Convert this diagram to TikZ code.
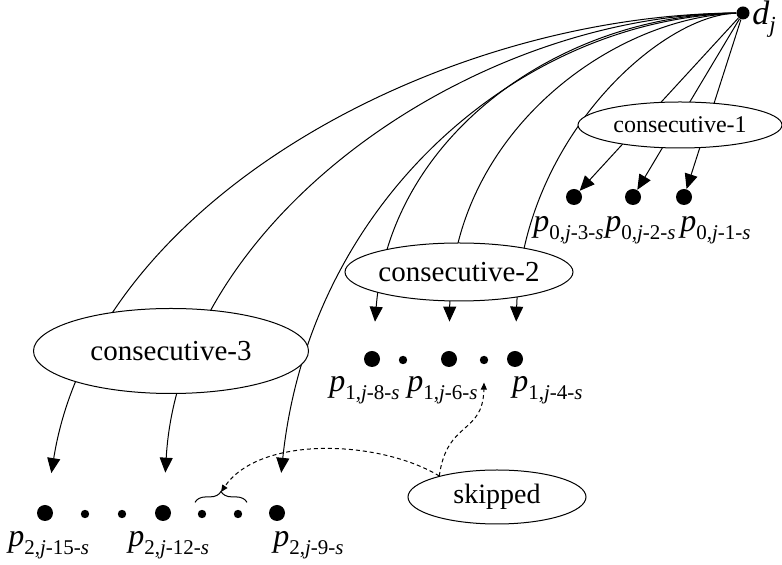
\documentclass[tikz,border=0pt]{standalone}
\usepackage{fontspec}
\setmainfont{Liberation Serif}
\usetikzlibrary{arrows.meta,shapes.geometric,decorations.pathreplacing}

\newcommand{\plab}[2]{\textit{p}\raisebox{-4pt}{\fontsize{10.5}{12}\selectfont #1,\textit{j}-#2-\textit{s}}}

\tikzset{
  bigdot/.style={circle, fill, inner sep=0pt, minimum size=8pt},
  smalldot/.style={circle, fill, inner sep=0pt, minimum size=4.2pt},
  group/.style={ellipse, draw, fill=white, line width=0.5pt, inner sep=0pt},
  plabel/.style={anchor=base west, inner sep=0pt, font=\fontsize{16}{19}\selectfont},
  arr/.style={line width=0.5pt, -{Triangle[length=7.5pt,width=6.5pt]}},
  skiparr/.style={line width=0.5pt, dash pattern=on 2pt off 1.5pt, -{Triangle[length=3.5pt,width=3pt]}},
}

\begin{document}
\begin{tikzpicture}[x=0.5pt, y=0.5pt]
  \useasboundingbox (0,0) rectangle (782,-565);

  % NODES
  \node[circle, fill, inner sep=0pt, minimum size=6.5pt] (dj) at (743,-13) {};
  \node[anchor=base west, inner sep=0pt, font=\fontsize{17}{20}\selectfont] (djlab) at (752,-25) {\textit{d}\raisebox{-4pt}{\fontsize{11.5}{14}\selectfont\textit{j}}};

  \node[bigdot] (a1) at (574,-197) {};
  \node[bigdot] (a2) at (633,-197) {};
  \node[bigdot] (a3) at (684,-197) {};

  \node[bigdot]   (b1) at (372,-359) {};
  \node[smalldot] (b2) at (403,-360) {};
  \node[bigdot]   (b3) at (449,-359) {};
  \node[smalldot] (b4) at (484,-360) {};
  \node[bigdot]   (b5) at (515,-359) {};

  \node[bigdot]   (c1) at (45,-513) {};
  \node[smalldot] (c2) at (85,-514) {};
  \node[smalldot] (c3) at (122,-514) {};
  \node[bigdot]   (c4) at (163,-513) {};
  \node[smalldot] (c5) at (202,-514) {};
  \node[smalldot] (c6) at (238,-514) {};
  \node[bigdot]   (c7) at (277,-513) {};

  \node[plabel] (la1) at (533,-232) {\plab{0}{3}};
  \node[plabel] (la2) at (605,-232) {\plab{0}{2}};
  \node[plabel] (la3) at (680,-232) {\plab{0}{1}};
  \node[plabel] (lb1) at (329,-392) {\plab{1}{8}};
  \node[plabel] (lb3) at (407,-392) {\plab{1}{6}};
  \node[plabel] (lb5) at (512,-392) {\plab{1}{4}};
  \node[plabel] (lc1) at (8,-547) {\plab{2}{15}};
  \node[plabel] (lc4) at (128,-547) {\plab{2}{12}};
  \node[plabel] (lc7) at (273,-547) {\plab{2}{9}};

  % LINES: straight ones for the first group
  \draw[arr] (dj) -- (a1);
  \draw[arr] (dj) -- (a2);
  \draw[arr] (dj) -- (a3);
  % second group
  \draw[arr, shorten >=14.5pt] (dj) .. controls (560,-15) and (390,-135) .. (b1);
  \draw[arr, shorten >=14.5pt] (dj) .. controls (610,-18) and (452,-135) .. (b3);
  \draw[arr, shorten >=14.5pt] (dj) .. controls (660,-15) and (522,-140) .. (b5);
  % third group
  \draw[arr, shorten >=16pt] (dj) .. controls (440,-15) and (95,-200) .. (c1);
  \draw[arr, shorten >=16pt] (dj) .. controls (470,-15) and (180,-220) .. (c4);
  \draw[arr, shorten >=16pt] (dj) .. controls (520,-20) and (310,-200) .. (c7);

  % ELLIPSES (on top of the lines)
  \node[group, minimum width=102pt, minimum height=23pt, font=\fontsize{12}{14}\selectfont] (cons1) at (680,-125) {consecutive-1};
  \node[group, minimum width=114pt, minimum height=29pt, font=\fontsize{14.5}{17}\selectfont] (cons2) at (459,-272) {consecutive-2};
  \node[group, minimum width=137.5pt, minimum height=42.5pt, font=\fontsize{14.5}{17}\selectfont] (cons3) at (171,-351) {consecutive-3};
  \node[group, minimum width=89pt, minimum height=27pt, font=\fontsize{14}{17}\selectfont] (skip) at (497,-497) {skipped};

  % skipped ones
  \draw[line width=0.5pt, decorate, decoration={brace, amplitude=5.5pt}]
    ([xshift=-3.5pt, yshift=3.5pt]c5.north) -- ([xshift=4.5pt, yshift=3.5pt]c6.north);
  \coordinate (gaptip) at (221,-492);
  \coordinate (gapup) at ([yshift=-9pt]b4.south);
  \draw[skiparr] (skip.160) .. controls (380,-440) and (260,-435) .. (gaptip);
  \draw[skiparr] (skip.160) .. controls (447,-420) and (483,-435) .. (gapup);
\end{tikzpicture}
\end{document}
